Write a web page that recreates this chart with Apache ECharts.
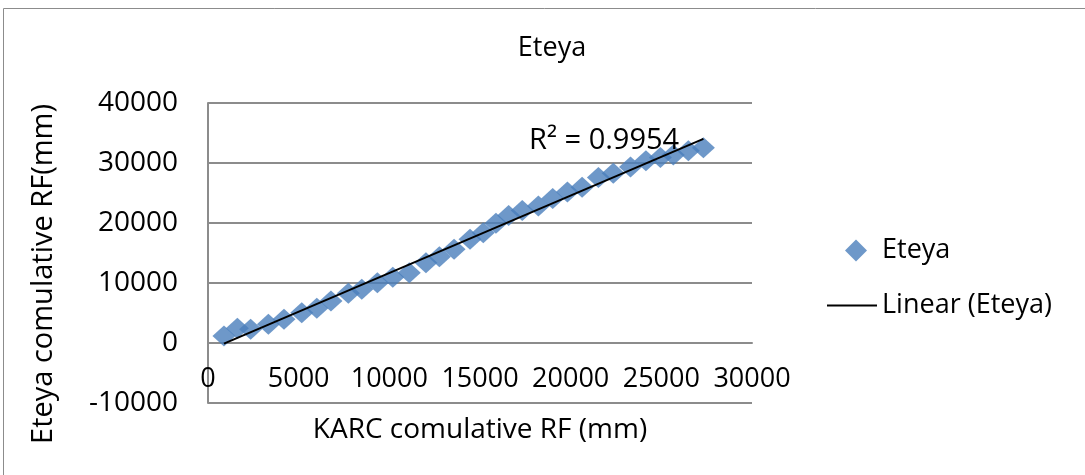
<!DOCTYPE html>
<html>
<head>
<meta charset="utf-8">
<script src="https://cdn.jsdelivr.net/npm/echarts@6/dist/echarts.min.js"></script>
<style>
html,body{margin:0;padding:0;background:#fff;}
#chart{width:1085px;height:475px;}
</style>
</head>
<body>
<div id="chart"></div>
<script>
// KARC cumulative rainfall (mm) - x values
const karcX = [880,1620,2350,3330,4190,5170,6000,6780,7740,8480,9340,10190,11100,12020,12760,13570,14450,15180,15880,16580,17330,18220,19010,19820,20630,21530,22350,23300,24150,24950,25660,26490,27320];
// Eteya cumulative rainfall (mm) - y values
const eteyaY = [1170,2450,2280,3110,3950,5050,5780,7000,8280,8950,10050,10950,11720,13380,14380,15620,17280,18380,19950,21250,22100,22850,24100,25150,25950,27600,28280,29330,30380,30900,31330,32050,32550];
const xTicks = [0,5000,10000,15000,20000,25000,30000];
const yTicks = [-10000,0,10000,20000,30000,40000];
const chartTitle = 'Eteya';
const seriesName = 'Eteya';
const trendName = 'Linear (Eteya)';
const r2Text = 'R² = 0.9954';
const xName = 'KARC comulative RF (mm)';
const yName = 'Eteya comulative RF(mm)';

// least-squares linear trendline
const n = karcX.length;
let sx=0, sy=0, sxx=0, sxy=0;
for (let i=0;i<n;i++){ sx+=karcX[i]; sy+=eteyaY[i]; sxx+=karcX[i]*karcX[i]; sxy+=karcX[i]*eteyaY[i]; }
const slope = (n*sxy - sx*sy)/(n*sxx - sx*sx);
const intercept = (sy - slope*sx)/n;
const xMin = Math.min(...karcX), xMax = Math.max(...karcX);
const trend = [[xMin, slope*xMin+intercept],[xMax, slope*xMax+intercept]];

const FONT = 'Open Sans';
const plain = v => String(v);
const GRID_GRAY = '#8c8c8c';
const chart = echarts.init(document.getElementById('chart'), null, {renderer:'canvas'});
chart.setOption({
  backgroundColor:'#fff',
  animation:false,
  textStyle:{fontFamily:FONT},
  title:{text:chartTitle,left:547,top:30,textAlign:'center',
    textStyle:{fontFamily:FONT,fontSize:27,fontWeight:'normal',color:'#000'}},
  grid:{left:208,right:333,top:103,bottom:72,containLabel:false,outerBoundsMode:'none'},
  legend:[
    {data:[{name:seriesName,icon:'diamond'}],left:840,top:232,itemWidth:22,itemHeight:22,
      textStyle:{fontFamily:FONT,fontSize:27,color:'#000',padding:[0,0,0,10]}},
    {data:[{name:trendName,icon:'rect',itemStyle:{color:'#000'}}],left:822,top:287,itemWidth:50,itemHeight:2,
      textStyle:{fontFamily:FONT,fontSize:27,color:'#000'}}
  ],
  xAxis:{type:'value',min:xTicks[0],max:xTicks[xTicks.length-1],interval:5000,
    position:'bottom',offset:-60,
    name:xName,nameLocation:'middle',nameGap:73,
    nameTextStyle:{fontFamily:FONT,fontSize:28,color:'#000'},
    axisLine:{show:true,onZero:false,lineStyle:{color:GRID_GRAY,width:2}},
    axisTick:{show:false},splitLine:{show:false},
    axisLabel:{fontFamily:FONT,fontSize:27,color:'#000',margin:23,formatter:plain}},
  yAxis:{type:'value',min:yTicks[0],max:yTicks[yTicks.length-1],interval:10000,
    name:yName,nameLocation:'middle',nameGap:150,nameRotate:90,
    nameTextStyle:{fontFamily:FONT,fontSize:29,color:'#000',padding:[0,42,0,0]},
    axisLine:{show:true,onZero:false,lineStyle:{color:GRID_GRAY,width:2}},
    axisTick:{show:false},
    splitLine:{show:true,showMinLine:true,lineStyle:{color:GRID_GRAY,width:2}},
    axisLabel:{fontFamily:FONT,fontSize:28,color:'#000',margin:30,formatter:plain}},
  series:[
    {name:seriesName,type:'scatter',symbol:'diamond',symbolSize:[23,21],
      itemStyle:{color:'#4A7EBB'},data:karcX.map((x,i)=>[x,eteyaY[i]]),z:2},
    {name:trendName,type:'line',symbol:'none',showSymbol:false,data:trend,
      lineStyle:{color:'#000',width:2},itemStyle:{color:'#000'},z:3}
  ],
  graphic:[
    {type:'rect',shape:{x:3.5,y:8.5,width:1200,height:600},
      style:{fill:'none',stroke:GRID_GRAY,lineWidth:1},silent:true},
    {type:'text',left:529,top:126,style:{text:r2Text,font:'29px "Open Sans"',fill:'#000'},z:10}
  ]
});
// bottom gridline at the y-axis minimum, positioned through the chart's own scales
const pA = chart.convertToPixel({xAxisIndex:0,yAxisIndex:0},[xTicks[0], yTicks[0]]);
const pB = chart.convertToPixel({xAxisIndex:0,yAxisIndex:0},[xTicks[xTicks.length-1], yTicks[0]]);
chart.setOption({graphic:[
  {type:'rect',shape:{x:3.5,y:8.5,width:1200,height:600},
    style:{fill:'none',stroke:GRID_GRAY,lineWidth:1},silent:true},
  {type:'text',left:529,top:126,style:{text:r2Text,font:'29px "Open Sans"',fill:'#000'},z:10},
  {type:'line',shape:{x1:pA[0],y1:Math.round(pA[1]),x2:pB[0],y2:Math.round(pB[1])},
    style:{stroke:GRID_GRAY,lineWidth:2},silent:true,z:1}
]}, {replaceMerge:['graphic']});
</script>
</body>
</html>
